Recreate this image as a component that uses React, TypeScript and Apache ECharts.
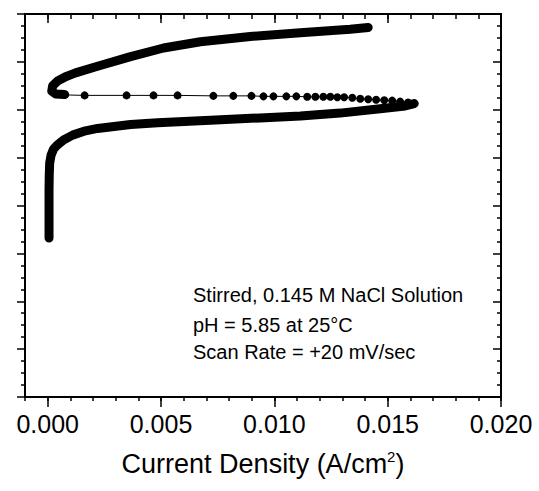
import React, { useEffect, useRef } from "react";
import * as echarts from "echarts";

// Lower (forward) branch: current density (A/cm^2), potential (arbitrary units, axis unlabeled)
const lowerX = [0.00006, 0.00006, 0.00006, 0.00007, 0.00009, 0.00015, 0.00026, 0.00044, 0.0007, 0.0011, 0.00167, 0.0022, 0.00366, 0.00485, 0.00718, 0.00936, 0.01115, 0.0129, 0.01467, 0.01577, 0.01617];
const lowerY = [3.32, 3.8, 4.32, 4.65, 4.89, 5.05, 5.18, 5.27, 5.37, 5.47, 5.56, 5.61, 5.69, 5.73, 5.78, 5.83, 5.87, 5.93, 6.02, 6.08, 6.13];

// Dotted (rapid current drop) segment
const dotX = [0.01617, 0.0159, 0.01555, 0.0152, 0.01485, 0.01449, 0.01414, 0.01379, 0.01344, 0.01308, 0.01278, 0.01247, 0.01216, 0.01181, 0.01145, 0.01097, 0.01053, 0.00996, 0.00952, 0.00899, 0.00819, 0.00731, 0.00573, 0.00467, 0.00348, 0.00163, 0.00075];
const dotY = [6.13, 6.15, 6.17, 6.19, 6.2, 6.21, 6.22, 6.23, 6.25, 6.26, 6.26, 6.27, 6.27, 6.27, 6.27, 6.28, 6.28, 6.28, 6.28, 6.29, 6.29, 6.29, 6.3, 6.3, 6.3, 6.3, 6.31];

// Upper branch
const upperX = [0.00075, 0.00035, 0.00018, 0.00022, 0.00044, 0.00079, 0.00123, 0.0022, 0.00366, 0.00511, 0.00674, 0.00894, 0.01115, 0.01335, 0.01414];
const upperY = [6.32, 6.33, 6.39, 6.5, 6.6, 6.69, 6.77, 6.91, 7.11, 7.29, 7.42, 7.53, 7.61, 7.68, 7.72];

const xMajorTicks = [0.0, 0.005, 0.01, 0.015, 0.02];
const annotations = [
  "Stirred, 0.145 M NaCl Solution",
  "pH = 5.85 at 25°C",
  "Scan Rate = +20 mV/sec",
];
const xAxisName = "Current Density (A/cm{sup|2})";

const FONT = "'Liberation Sans', Arial, Helvetica, sans-serif";

const zip = (xs: number[], ys: number[]) => xs.map((x, i) => [x, ys[i]]);

export default function App() {
  const ref = useRef<HTMLDivElement>(null);
  useEffect(() => {
    document.body.style.margin = "0";
    if (!ref.current) return;
    const chart = echarts.init(ref.current, null, { renderer: "svg" });
    const axisLine = { show: true, onZero: false, lineStyle: { color: "#000", width: 2 } };
    const baseX = { type: "value", min: -0.001, max: 0.02, splitLine: { show: false } } as any;
    chart.setOption({
      animation: false,
      backgroundColor: "#fff",
      grid: { left: 25, top: 14, width: 476, height: 383, containLabel: false },
      xAxis: [
        {
          ...baseX,
          position: "bottom",
          interval: 0.001,
          axisLine,
          axisTick: { show: true, inside: false, length: 4, lineStyle: { color: "#000", width: 1.5 } },
          axisLabel: {
            show: true,
            customValues: xMajorTicks,
            formatter: (v: number) => v.toFixed(3),
            fontSize: 25,
            fontFamily: FONT,
            color: "#000",
            margin: 14,
          },
          name: xAxisName,
          nameLocation: "middle",
          nameGap: 52,
          nameTextStyle: {
            fontSize: 27,
            fontFamily: FONT,
            color: "#000",
            rich: {
              sup: { fontSize: 15, fontFamily: FONT, color: "#000", verticalAlign: "top", padding: [0, 0, 14, 0] },
            },
          },
        },
        {
          ...baseX,
          position: "bottom",
          axisLine,
          axisTick: { show: true, inside: false, length: 10, customValues: xMajorTicks, lineStyle: { color: "#000", width: 1.5 } },
          axisLabel: { show: false },
        },
        {
          ...baseX,
          position: "top",
          interval: 0.001,
          axisLine,
          axisTick: { show: true, inside: true, length: 5, lineStyle: { color: "#000", width: 1.5 } },
          axisLabel: { show: false },
        },
        {
          ...baseX,
          position: "top",
          axisLine,
          axisTick: { show: true, inside: true, length: 9, customValues: xMajorTicks, lineStyle: { color: "#000", width: 1.5 } },
          axisLabel: { show: false },
        },
      ],
      yAxis: [
        {
          type: "value",
          position: "left",
          min: 0,
          max: 8,
          interval: 1,
          axisLine,
          axisTick: { show: true, inside: false, length: 8, lineStyle: { color: "#000", width: 1.5 } },
          minorTick: { show: true, splitNumber: 4, length: 4, lineStyle: { color: "#000", width: 1.5 } },
          axisLabel: { show: false },
          splitLine: { show: false },
          minorSplitLine: { show: false },
        },
        {
          type: "value",
          position: "right",
          min: 0,
          max: 8,
          interval: 1,
          axisLine,
          axisTick: { show: true, inside: true, length: 8, lineStyle: { color: "#000", width: 1.5 } },
          minorTick: { show: true, splitNumber: 4, length: 4, lineStyle: { color: "#000", width: 1.5 } },
          axisLabel: { show: false },
          splitLine: { show: false },
          minorSplitLine: { show: false },
        },
      ],
      series: [
        {
          type: "line",
          xAxisIndex: 0,
          yAxisIndex: 0,
          data: zip(lowerX, lowerY),
          showSymbol: false,
          symbol: "none",
          lineStyle: { color: "#000", width: 9, cap: "round", join: "round" },
        },
        {
          type: "line",
          xAxisIndex: 0,
          yAxisIndex: 0,
          data: zip(dotX, dotY),
          symbol: "circle",
          symbolSize: 8,
          showSymbol: true,
          itemStyle: { color: "#000" },
          lineStyle: { color: "#000", width: 1 },
        },
        {
          type: "line",
          xAxisIndex: 0,
          yAxisIndex: 0,
          data: zip(upperX, upperY),
          showSymbol: false,
          symbol: "none",
          lineStyle: { color: "#000", width: 9, cap: "round", join: "round" },
        },
      ],
      graphic: annotations.map((t, i) => ({
        type: "text",
        x: 193,
        y: [295, 325, 352][i],
        style: {
          text: t,
          fontSize: 20,
          fontFamily: FONT,
          fill: "#000",
          verticalAlign: "middle",
        },
      })),
    });
    return () => chart.dispose();
  }, []);
  return <div ref={ref} style={{ width: 539, height: 491 }} />;
}
